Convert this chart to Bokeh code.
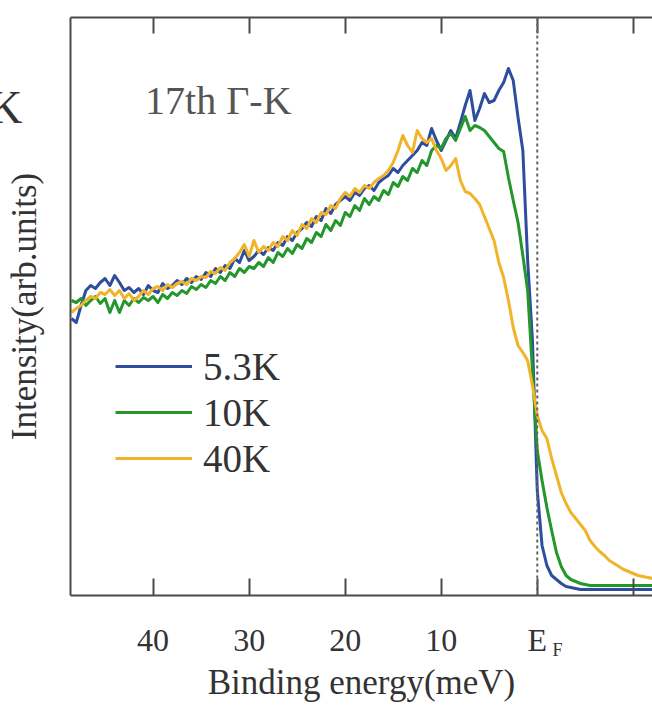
from bokeh.plotting import figure
from bokeh.models import Range1d, LinearAxis, FixedTicker, Span, Label, Legend, LegendItem
from bokeh.embed import file_html
from bokeh.resources import INLINE

# Binding energy (meV), shared grid for all three spectra
energy = [48.5, 48.0, 47.5, 47.0, 46.5, 46.0, 45.5, 45.0, 44.5, 44.0,
          43.5, 43.0, 42.5, 42.0, 41.5, 41.0, 40.5, 40.0, 39.5, 39.0,
          38.5, 38.0, 37.5, 37.0, 36.5, 36.0, 35.5, 35.0, 34.5, 34.0,
          33.5, 33.0, 32.5, 32.0, 31.5, 31.0, 30.5, 30.0, 29.5, 29.0,
          28.5, 28.0, 27.5, 27.0, 26.5, 26.0, 25.5, 25.0, 24.5, 24.0,
          23.5, 23.0, 22.5, 22.0, 21.5, 21.0, 20.5, 20.0, 19.5, 19.0,
          18.5, 18.0, 17.5, 17.0, 16.5, 16.0, 15.5, 15.0, 14.5, 14.0,
          13.5, 13.0, 12.5, 12.0, 11.5, 11.0, 10.5, 10.0, 9.5, 9.0,
          8.5, 8.0, 7.5, 7.0, 6.5, 6.0, 5.5, 5.0, 4.5, 4.0,
          3.5, 3.0, 2.5, 2.0, 1.5, 1.0, 0.5, 0.0, -0.5, -1.0,
          -1.5, -2.0, -2.5, -3.0, -3.5, -4.0, -4.5, -5.0, -5.5, -6.0,
          -6.5, -7.0, -7.5, -8.0, -8.5, -9.0, -9.5, -10.0, -10.5, -11.0,
          -11.5, -12.0]

# Intensity (arb. units)
t_5_3K = [277, 273, 290, 305, 310, 307, 313, 317, 310, 320,
          313, 305, 308, 303, 307, 301, 310, 305, 303, 312,
          307, 310, 315, 311, 317, 313, 319, 316, 323, 319,
          327, 323, 330, 327, 337, 333, 345, 335, 339, 345,
          341, 348, 345, 353, 350, 359, 355, 363, 367, 373,
          369, 379, 375, 387, 382, 391, 395, 399, 395, 403,
          400, 407, 410, 405, 413, 417, 420, 427, 423, 430,
          435, 440, 445, 453, 450, 467, 455, 445, 455, 465,
          457, 473, 490, 505, 475, 487, 502, 493, 495, 505,
          513, 527, 515, 478, 445, 335, 255, 105, 50, 30,
          20, 16, 12, 9, 8, 7, 6, 6, 6, 6,
          6, 6, 6, 6, 6, 6, 6, 6, 6, 6,
          6, 6]

t_10K = [295, 293, 297, 290, 295, 299, 292, 297, 283, 295,
         283, 295, 290, 297, 293, 298, 295, 299, 293, 301,
         297, 303, 300, 305, 302, 309, 306, 311, 308, 315,
         312, 319, 315, 323, 319, 327, 323, 329, 327, 333,
         329, 338, 333, 343, 339, 347, 342, 351, 347, 357,
         353, 363, 359, 371, 365, 375, 370, 383, 379, 390,
         385, 397, 391, 399, 395, 405, 401, 413, 409, 419,
         415, 427, 423, 435, 430, 445, 450, 447, 457, 462,
         455, 467, 479, 465, 470, 468, 465, 459, 453, 447,
         444, 418, 395, 373, 340, 305, 225, 145, 115, 88,
         65, 43, 29, 20, 16, 14, 12, 11, 10, 10,
         10, 10, 10, 10, 10, 10, 10, 10, 10, 10,
         10, 10]

t_40K = [283, 287, 290, 295, 299, 297, 303, 301, 306, 300,
         305, 297, 302, 295, 299, 305, 301, 307, 309, 305,
         311, 308, 312, 314, 311, 317, 315, 319, 318, 324,
         322, 328, 325, 333, 337, 343, 351, 339, 355, 343,
         349, 345, 353, 349, 359, 355, 365, 360, 371, 367,
         377, 373, 383, 381, 390, 387, 397, 403, 399, 407,
         403, 410, 407, 413, 417, 420, 425, 433, 445, 460,
         450, 443, 465, 457, 453, 457, 445, 437, 425, 430,
         437, 415, 404, 402, 397, 391, 379, 367, 355, 333,
         318, 295, 268, 250, 243, 235, 210, 180, 165, 157,
         137, 120, 103, 92, 83, 77, 71, 65, 55, 49,
         44, 40, 35, 32, 29, 26, 24, 22, 20, 19,
         18, 17]

series_labels = ["5.3K", "10K", "40K"]
series_colors = ["#2e4d9e", "#23962c", "#f0b42a"]
tick_values = [40, 30, 20, 10, 0, -10]
tick_texts = {0: "E", -10: ""}

SERIF = "Liberation Serif"
AX = "#4a4a4a"

p = figure(width=652, height=707,
           x_range=Range1d(48.6, -12.0), y_range=Range1d(0, 578),
           output_backend="svg", toolbar_location=None,
           x_axis_location=None, y_axis_location=None,
           min_border_left=70, min_border_right=0,
           min_border_top=17, min_border_bottom=112)
p.outline_line_color = None
p.background_fill_color = "white"
p.border_fill_color = "white"
for g in list(p.xgrid) + list(p.ygrid):
    g.visible = False

# bottom axis
xb = LinearAxis(ticker=FixedTicker(ticks=tick_values),
                major_label_overrides=tick_texts,
                axis_label="Binding energy(meV)")
xb.axis_line_color = AX
xb.axis_line_width = 2
xb.major_tick_line_color = AX
xb.major_tick_line_width = 2
xb.major_tick_in = 17
xb.major_tick_out = 0
xb.minor_tick_line_color = None
xb.major_label_text_font = SERIF
xb.major_label_text_font_size = "32px"
xb.major_label_text_color = "#333333"
xb.major_label_standoff = 26
xb.axis_label_text_font = SERIF
xb.axis_label_text_font_size = "35px"
xb.axis_label_text_font_style = "normal"
xb.axis_label_text_color = "#333333"
xb.axis_label_standoff = 2
p.add_layout(xb, "below")

# top axis (ticks only)
xt = LinearAxis(ticker=FixedTicker(ticks=tick_values),
                major_label_overrides={t: "" for t in tick_values})
xt.axis_line_color = AX
xt.axis_line_width = 2
xt.major_tick_line_color = AX
xt.major_tick_line_width = 2
xt.major_tick_in = 16
xt.major_tick_out = 0
xt.minor_tick_line_color = None
xt.major_label_standoff = 0
p.add_layout(xt, "above")

# left side: 1) frame line
ya = LinearAxis(ticker=FixedTicker(ticks=[]))
ya.axis_line_color = AX
ya.axis_line_width = 2
ya.major_tick_out = 0
ya.major_tick_in = 0
ya.minor_tick_line_color = None
ya.major_label_standoff = 0
p.add_layout(ya, "left")

# 2) edge of the neighbouring panel's "K" and 3) subscript "F" of E_F
#    (kept in the left side panel so they are not clipped to the frame)
p.add_layout(Label(x=-12, y=80, x_units="canvas", y_units="canvas", text="K",
                   text_font=SERIF, text_font_size="47px", text_color="#333333",
                   text_baseline="top", text_align="left"), "left")
p.add_layout(Label(x=552, y=639, x_units="canvas", y_units="canvas", text="F",
                   text_font=SERIF, text_font_size="18px", text_color="#333333",
                   text_baseline="top", text_align="left"), "left")

# 4) axis title
yl = LinearAxis(ticker=FixedTicker(ticks=[]), axis_label="Intensity(arb.units)")
yl.axis_line_color = None
yl.major_tick_out = 0
yl.major_tick_in = 0
yl.minor_tick_line_color = None
yl.major_label_standoff = 0
yl.axis_label_text_font = SERIF
yl.axis_label_text_font_size = "35px"
yl.axis_label_text_font_style = "normal"
yl.axis_label_text_color = "#333333"
yl.axis_label_standoff = -17
p.add_layout(yl, "left")

renderers = []
for vals, col in zip([t_5_3K, t_10K, t_40K], series_colors):
    r = p.line(energy, vals, line_color=col, line_width=3, line_join="round")
    renderers.append(r)

p.add_layout(Span(location=0, dimension="height", line_color="#666666",
                  line_dash="3 3", line_width=2))

legend = Legend(items=[LegendItem(label=l, renderers=[r]) for l, r in zip(series_labels, renderers)],
                location=(45, 114))
legend.label_text_font = SERIF
legend.label_text_font_size = "39px"
legend.label_text_color = "#333333"
legend.glyph_width = 77
legend.glyph_height = 46
legend.label_height = 46
legend.label_standoff = 11
legend.spacing = 0
legend.padding = 0
legend.margin = 0
legend.border_line_color = None
legend.background_fill_alpha = 0
p.add_layout(legend)

# panel annotation
p.add_layout(Label(x=40.83, y=495, text="17th Γ-K", text_font=SERIF,
                   text_font_size="40px", text_color="#555555",
                   text_baseline="alphabetic"))

open("out.html", "w").write(file_html(p, INLINE))
